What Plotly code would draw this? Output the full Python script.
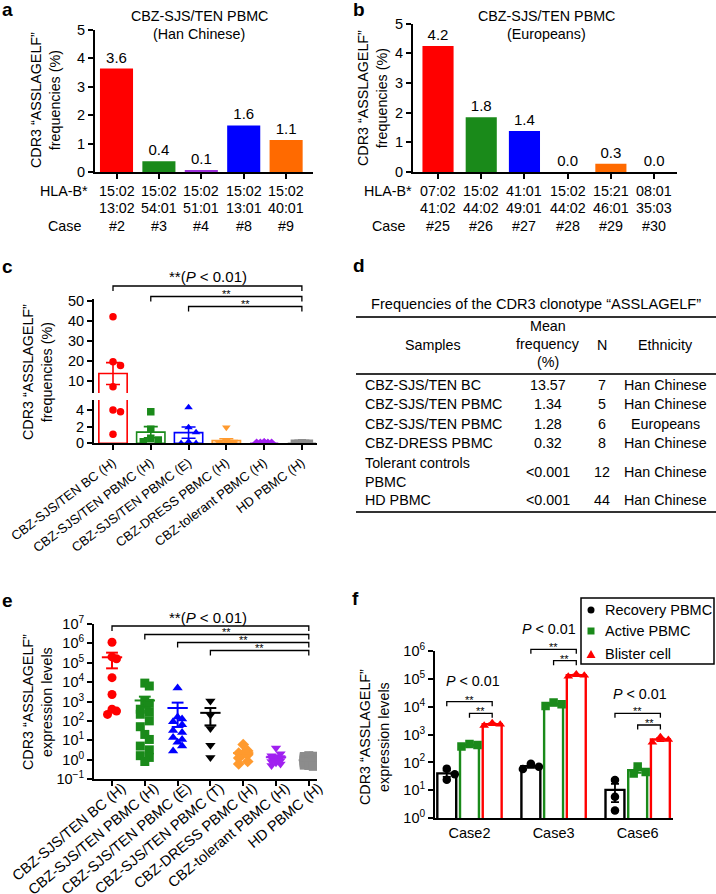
import numpy as np
import plotly.graph_objects as go

W, H = 716, 894
FONT = "Liberation Sans, Arial, Helvetica, sans-serif"
FS = 14.3  # base text size

# ---------------- Panel a data ----------------
a_hla1 = ["15:02", "15:02", "15:02", "15:02", "15:02"]
a_hla2 = ["13:02", "54:01", "51:01", "13:01", "40:01"]
a_case = ["#2", "#3", "#4", "#8", "#9"]
a_freq = [3.64, 0.38, 0.07, 1.64, 1.13]
a_colors = ["#FF0000", "#1A8A1A", "#9B30D9", "#0000FF", "#FF6A00"]

# ---------------- Panel b data ----------------
b_hla1 = ["07:02", "15:02", "41:01", "15:02", "15:21", "08:01"]
b_hla2 = ["41:02", "44:02", "49:01", "44:02", "46:01", "35:03"]
b_case = ["#25", "#26", "#27", "#28", "#29", "#30"]
b_freq = [4.24, 1.84, 1.38, 0.0, 0.28, 0.0]
b_colors = ["#FF0000", "#1A8A1A", "#0000FF", "#000000", "#FF6A00", "#000000"]

# ---------------- Panel c data ----------------
c_labels = ["CBZ-SJS/TEN BC (H)", "CBZ-SJS/TEN PBMC (H)", "CBZ-SJS/TEN PBMC (E)",
            "CBZ-DRESS PBMC (H)", "CBZ-tolerant PBMC (H)", "HD PBMC (H)"]
c_bc = [42.0, 19.5, 17.6, 7.0, 4.0, 3.8, 1.1]
c_pbmc_h = [3.8, 1.7, 0.6, 0.4, 0.2]
c_pbmc_e = [4.3, 1.9, 1.3, 0.2, 0.0, 0.0]
c_dress = [1.9, 0.3, 0.2, 0.1, 0.05, 0.0, 0.0, 0.0]
c_tol = [0.0, 0.0, 0.0, 0.0, 0.0, 0.0, 0.0, 0.0, 0.0, 0.0, 0.0, 0.0]
c_hd = [0.0, 0.0, 0.0, 0.0, 0.0, 0.0, 0.0, 0.0, 0.0, 0.0, 0.0,
        0.0, 0.0, 0.0, 0.0, 0.0, 0.0, 0.0, 0.0, 0.0, 0.0, 0.0,
        0.0, 0.0, 0.0, 0.0, 0.0, 0.0, 0.0, 0.0, 0.0, 0.0, 0.0,
        0.0, 0.0, 0.0, 0.0, 0.0, 0.0, 0.0, 0.0, 0.0, 0.0, 0.0]
c_colors = ["#FF0000", "#1A8A1A", "#0000FF", "#FF9A2E", "#A020F0", "#8C8C8C"]
c_symbols = ["circle", "square", "triangle-up", "triangle-down", "diamond", "square"]

# ---------------- Panel d data ----------------
d_title = "Frequencies of the CDR3 clonotype “ASSLAGELF”"
d_samples = ["CBZ-SJS/TEN BC", "CBZ-SJS/TEN PBMC", "CBZ-SJS/TEN PBMC", "CBZ-DRESS PBMC",
             "Tolerant controls<br>PBMC", "HD PBMC"]
d_mean = ["13.57", "1.34", "1.28", "0.32", "<0.001", "<0.001"]
d_n = ["7", "5", "6", "8", "12", "44"]
d_eth = ["Han Chinese", "Han Chinese", "Europeans", "Han Chinese", "Han Chinese", "Han Chinese"]

# ---------------- Panel e data ----------------
e_labels = ["CBZ-SJS/TEN BC (H)", "CBZ-SJS/TEN PBMC (H)", "CBZ-SJS/TEN PBMC (E)",
            "CBZ-SJS/TEN PBMC (T)", "CBZ-DRESS PBMC (H)", "CBZ-tolerant PBMC (H)", "HD PBMC (H)"]
e_bc = [1.15e6, 2.0e5, 1.6e5, 1.7e4, 2.3e3, 400, 320, 215]
e_pbmc_h = [8900, 6300, 1000, 800, 400, 280, 220, 100, 50, 20, 11, 5, 3.2, 1.6, 1.3, 0.8]
e_pbmc_e = [5000, 160, 125, 90, 63, 32, 25, 14, 11, 8, 5, 2.8]
e_pbmc_t = [1050, 200, 40, 5.6, 1.3]
e_dress = [6.0, 2.8, 2.2, 2.0, 1.8, 1.2, 0.8, 0.6]
e_tol = [4.0, 2.0, 1.6, 1.4, 1.3, 1.2, 1.0, 0.9, 0.8, 0.7, 0.6, 0.5]
e_hd = [1.6, 1.5, 1.45, 1.4, 1.35, 1.3, 1.25, 1.2, 1.2, 1.15,
        1.1, 1.1, 1.05, 1.05, 1.0, 1.0, 1.0, 1.0, 0.98, 0.95,
        0.95, 0.92, 0.9, 0.9, 0.88, 0.85, 0.85, 0.82, 0.8, 0.8,
        0.78, 0.75, 0.72, 0.7, 0.7, 0.68, 0.65, 0.62, 0.6, 0.58,
        0.55, 0.52, 0.5, 0.45]
e_colors = ["#FF0000", "#1A8A1A", "#0000FF", "#000000", "#FF9A2E", "#A020F0", "#8C8C8C"]
e_symbols = ["circle", "square", "triangle-up", "triangle-down", "diamond", "triangle-down", "square"]
e_ticks = [0.1, 1, 10, 100, 1e3, 1e4, 1e5, 1e6, 1e7]
e_ticktext = ["10<sup>−1</sup>", "10<sup>0</sup>", "10<sup>1</sup>", "10<sup>2</sup>", "10<sup>3</sup>",
              "10<sup>4</sup>", "10<sup>5</sup>", "10<sup>6</sup>", "10<sup>7</sup>"]

# ---------------- Panel f data ----------------
f_cases = ["Case2", "Case3", "Case6"]
f_names = ["Recovery PBMC", "Active PBMC", "Blister cell"]
f_recovery = [[60, 38, 24], [90, 70, 58], [23.4, 5.9, 1.9]]
f_active = [[460, 420, 370], [14000, 12000, 10500], [72, 45, 40]]
f_blister = [[2600, 2300, 2100], [145000, 130000, 120000], [820, 650, 520]]
f_colors = ["#000000", "#1A8A1A", "#FF0000"]
f_symbols = ["circle", "square", "triangle-up"]
f_ticks = [1, 10, 100, 1e3, 1e4, 1e5, 1e6]
f_ticktext = ["10<sup>0</sup>", "10<sup>1</sup>", "10<sup>2</sup>", "10<sup>3</sup>",
              "10<sup>4</sup>", "10<sup>5</sup>", "10<sup>6</sup>"]


# ---------------- helpers ----------------
def X(px):
    return px / W


def Y(py):
    return 1 - py / H


ann = []
shapes = []


def text(px, py, s, size=FS, xanchor="center", yanchor="middle", angle=0, bold=False, color="black"):
    if bold:
        s = "<b>" + s + "</b>"
    ann.append(dict(x=X(px), y=Y(py), xref="paper", yref="paper", text=s, showarrow=False,
                    font=dict(family=FONT, size=size, color=color), xanchor=xanchor,
                    yanchor=yanchor, textangle=angle))


def stars(xref, x, py):
    ann.append(dict(x=x, y=Y(py), xref=xref, yref="paper", text="**", showarrow=False,
                    font=dict(family=FONT, size=11, color="black"), xanchor="center", yanchor="middle"))


def bracket(xref, x0, x1, py, drop=5, lw=1.3):
    shapes.append(dict(type="path", xref=xref, yref="paper",
                       path=f"M {x0},{Y(py + drop)} L {x0},{Y(py)} L {x1},{Y(py)} L {x1},{Y(py + drop)}",
                       line=dict(color="black", width=lw)))


def swarm(ypx, diam, maxw):
    n = len(ypx)
    offs = [0.0] * n
    order = sorted(range(n), key=lambda i: ypx[i])
    step = diam * 0.5
    cands = [0.0]
    k = 1
    while k * step <= maxw + 1e-9:
        cands += [k * step, -k * step]
        k += 1
    placed = []
    for i in order:
        y = ypx[i]
        chosen, bestc, bestd = None, 0.0, -1
        for c in cands:
            d = min([((c - px) ** 2 + (y - py) ** 2) ** 0.5 for px, py in placed], default=1e9)
            if d >= diam * 0.9:
                chosen = c
                break
            if d > bestd:
                bestd, bestc = d, c
        if chosen is None:
            chosen = bestc
        offs[i] = chosen
        placed.append((chosen, y))
    return offs


def mean_sem(v):
    v = np.asarray(v, dtype=float)
    return float(v.mean()), float(v.std(ddof=1) / np.sqrt(len(v)))


fig = go.Figure()
AX = dict(showline=True, linecolor="black", linewidth=2, ticks="outside", ticklen=5, tickwidth=2,
          tickcolor="black", showgrid=False, zeroline=False, automargin=False,
          tickfont=dict(family=FONT, size=14.5, color="black"))

# ---------------- Panel a ----------------
fig.add_trace(go.Bar(x=list(range(len(a_freq))), y=a_freq, width=0.78,
                     marker=dict(color=a_colors, line=dict(width=0)),
                     text=[f"{v:.1f}" for v in a_freq], textposition="outside", constraintext="none",
                     textfont=dict(family=FONT, size=15, color="black"), cliponaxis=False,
                     xaxis="x", yaxis="y", showlegend=False, hoverinfo="skip"))
text(0, 9, "a", size=19, xanchor="left", bold=True)
text(199, 16, "CBZ-SJS/TEN PBMC")
text(199, 34, "(Han Chinese)")
text(45, 100, "CDR3 “ASSLAGELF”<br>frequencies (%)", angle=-90)
text(63.5, 191, "HLA-B*")
text(64.5, 226, "Case")
for i in range(len(a_freq)):
    for py, s in [(191, a_hla1[i]), (208, a_hla2[i]), (226, a_case[i])]:
        ann.append(dict(x=i, y=Y(py), xref="x", yref="paper", text=s, showarrow=False,
                        font=dict(family=FONT, size=FS, color="black"), xanchor="center", yanchor="middle"))

# ---------------- Panel b ----------------
fig.add_trace(go.Bar(x=list(range(len(b_freq))), y=b_freq, width=0.72,
                     marker=dict(color=b_colors, line=dict(width=0)),
                     text=[f"{v:.1f}" for v in b_freq], textposition="outside", constraintext="none",
                     textfont=dict(family=FONT, size=15, color="black"), cliponaxis=False,
                     xaxis="x2", yaxis="y2", showlegend=False, hoverinfo="skip"))
text(351, 9, "b", size=19, xanchor="left", bold=True)
text(546, 16, "CBZ-SJS/TEN PBMC")
text(546, 34, "(Europeans)")
text(373, 98, "CDR3 “ASSLAGELF”<br>frequencies (%)", angle=-90)
text(388, 191, "HLA-B*")
text(388, 226, "Case")
for i in range(len(b_freq)):
    for py, s in [(191, b_hla1[i]), (208, b_hla2[i]), (226, b_case[i])]:
        ann.append(dict(x=i, y=Y(py), xref="x2", yref="paper", text=s, showarrow=False,
                        font=dict(family=FONT, size=FS, color="black"), xanchor="center", yanchor="middle"))

# ---------------- Panel c (broken axis) ----------------
c_data = [c_bc, c_pbmc_h, c_pbmc_e, c_dress, c_tol, c_hd]
C_PPC = 37.8


def c_ypx(v):
    return 443.3 - v * 8.33 if v <= 4.6 else 380.7 - (v - 10) * 2.0


for g, vals in enumerate(c_data):
    m, s = mean_sem(vals)
    for xa, ya in [("x3", "y3"), ("x4", "y4")]:
        fig.add_trace(go.Bar(x=[g], y=[m], width=0.75,
                             marker=dict(color="rgba(255,255,255,0)", line=dict(color=c_colors[g], width=1.6)),
                             error_y=dict(type="data", array=[s], color=c_colors[g], thickness=1.6, width=7),
                             xaxis=xa, yaxis=ya, showlegend=False, hoverinfo="skip"))
for g, vals in enumerate(c_data):
    offs = swarm([c_ypx(v) for v in vals], 7.5, 11)
    xs = [g + o / C_PPC for o in offs]
    lo = [(x, v) for x, v in zip(xs, vals) if v <= 4.6]
    hi = [(x, v) for x, v in zip(xs, vals) if v > 4.6]
    for pts, xa, ya in [(lo, "x3", "y3"), (hi, "x4", "y4")]:
        if pts:
            fig.add_trace(go.Scatter(x=[p[0] for p in pts], y=[p[1] for p in pts], mode="markers",
                                     marker=dict(symbol=c_symbols[g], size=7.5, color=c_colors[g]),
                                     xaxis=xa, yaxis=ya, showlegend=False, hoverinfo="skip"))
text(0, 266, "c", size=19, xanchor="left", bold=True)
text(37, 372, "CDR3 “ASSLAGELF”<br>frequencies (%)", angle=-90)
text(208, 276, "**(<i>P</i> &lt; 0.01)", size=15)
bracket("x3", 0, 5, 286)
bracket("x3", 1, 5, 296.5)
bracket("x3", 2, 5, 306.5)
stars("x3", 3, 293.5)
stars("x3", 3.5, 303.5)

# ---------------- Panel d (table) ----------------
text(351, 265, "d", size=19, xanchor="left", bold=True)
text(536, 304, d_title, size=14.6)
for py in (317, 374, 512):
    shapes.append(dict(type="line", xref="paper", yref="paper", x0=X(356), x1=X(716), y0=Y(py), y1=Y(py),
                       line=dict(color="#333333", width=2)))
text(433, 345, "Samples")
text(548, 326, "Mean")
text(548, 344, "frequency")
text(548, 362, "(%)")
text(602, 345, "N")
text(665, 345, "Ethnicity")
row_y = [385, 404.5, 424, 443.5, 472, 500]
for i in range(len(d_samples)):
    yy = row_y[i]
    if "<br>" in d_samples[i]:
        l1, l2 = d_samples[i].split("<br>")
        text(363, yy - 9.5, l1, xanchor="left")
        text(363, yy + 9.5, l2, xanchor="left")
    else:
        text(363, yy, d_samples[i], xanchor="left")
    text(548, yy, d_mean[i].replace("<", "&lt;"))
    text(602, yy, d_n[i])
    text(665, yy, d_eth[i])

# ---------------- Panel e ----------------
e_data = [e_bc, e_pbmc_h, e_pbmc_e, e_pbmc_t, e_dress, e_tol, e_hd]
E_PPC = 32.8


def e_ypx(v):
    return 779 - (np.log10(v) + 1) * 19.4


for g, vals in enumerate(e_data):
    offs = swarm([e_ypx(v) for v in vals], 9, 7)
    fig.add_trace(go.Scatter(x=[g + o / E_PPC for o in offs], y=vals, mode="markers",
                             marker=dict(symbol=e_symbols[g], size=9, color=e_colors[g]),
                             xaxis="x5", yaxis="y5", showlegend=False, hoverinfo="skip"))
for g, vals in enumerate(e_data):
    m, s = mean_sem(vals)
    hw, cw = 0.31, 0.18
    xs = [g - hw, g + hw, None, g, g, None, g - cw, g + cw]
    ys = [m, m, None, m, m + s, None, m + s, m + s]
    if m - s > 0:
        xs += [None, g, g, None, g - cw, g + cw]
        ys += [None, m, m - s, None, m - s, m - s]
    fig.add_trace(go.Scatter(x=xs, y=ys, mode="lines", line=dict(color=e_colors[g], width=2),
                             xaxis="x5", yaxis="y5", showlegend=False, hoverinfo="skip"))
text(0, 600, "e", size=19, xanchor="left", bold=True)
text(37, 702, "CDR3 “ASSLAGELF”<br>expression levels", angle=-90)
text(208, 617, "**(<i>P</i> &lt; 0.01)", size=15)
bracket("x5", 0, 6, 626)
bracket("x5", 1, 6, 634.5)
bracket("x5", 2, 6, 642.5)
bracket("x5", 3, 6, 650.5)
for x0, py in [(1, 632), (2, 640), (3, 648)]:
    stars("x5", (x0 + 6) / 2, py)

# ---------------- Panel f ----------------
f_data = [f_recovery, f_active, f_blister]
F_PPG = 84.0
F_OFF = 0.27
F_W = 0.225


def f_ypx(v):
    return 818.3 - np.log10(v) * 27.93


for j, cond in enumerate(f_data):
    ms = [mean_sem(v) for v in cond]
    fig.add_trace(go.Bar(x=list(range(len(f_cases))), y=[m for m, s in ms], width=F_W,
                         offset=(j - 1) * F_OFF - F_W / 2,
                         marker=dict(color="rgba(255,255,255,0)", line=dict(color=f_colors[j], width=2.4)),
                         error_y=dict(type="data", array=[s for m, s in ms], color=f_colors[j],
                                      thickness=1.8, width=4),
                         xaxis="x6", yaxis="y6", showlegend=False, hoverinfo="skip"))
for j, cond in enumerate(f_data):
    xs, ys = [], []
    for i, vals in enumerate(cond):
        offs = swarm([f_ypx(v) for v in vals], 8, 8)
        xs += [i + (j - 1) * F_OFF + o / F_PPG for o in offs]
        ys += list(vals)
    fig.add_trace(go.Scatter(x=xs, y=ys, mode="markers", name=f_names[j],
                             marker=dict(symbol=f_symbols[j], size=8.5, color=f_colors[j]),
                             xaxis="x6", yaxis="y6", showlegend=False, hoverinfo="skip"))
text(350, 598, "f", size=19, xanchor="left", bold=True)
text(374, 737, "CDR3 “ASSLAGELF”<br>expression levels", angle=-90)
for i, (tx, ty, b1, b2) in enumerate([(473, 681, 701.7, 713.3), (548.5, 629, 649.3, 660.7),
                                      (640, 693.5, 713.3, 725)]):
    text(tx, ty, "<i>P</i> &lt; 0.01", size=14.3)
    bracket("x6", i - F_OFF, i + F_OFF, b1, drop=4.5)
    bracket("x6", i, i + F_OFF, b2, drop=4.5)
    stars("x6", i, b1 - 2)
    stars("x6", i + F_OFF / 2, b2 - 2)
# legend box
shapes.append(dict(type="rect", xref="paper", yref="paper", x0=X(581), x1=X(714), y0=Y(664), y1=Y(598),
                   line=dict(color="black", width=1.5), fillcolor="white"))
shapes.append(dict(type="circle", xref="paper", yref="paper", x0=X(587.5), x1=X(594.5), y0=Y(613.5),
                   y1=Y(606.5), line=dict(color="black", width=0), fillcolor="black"))
shapes.append(dict(type="rect", xref="paper", yref="paper", x0=X(587.5), x1=X(594.5), y0=Y(634.5),
                   y1=Y(627.5), line=dict(color="#1A8A1A", width=0), fillcolor="#1A8A1A"))
shapes.append(dict(type="path", xref="paper", yref="paper",
                   path=f"M {X(586.5)},{Y(658)} L {X(595.5)},{Y(658)} L {X(591)},{Y(650)} Z",
                   line=dict(color="#FF0000", width=0), fillcolor="#FF0000"))
for py, s in [(610, f_names[0]), (631, f_names[1]), (654, f_names[2])]:
    text(603, py, s, size=14.5, xanchor="left")

# ---------------- layout ----------------
lay = dict(
    width=W, height=H, margin=dict(l=0, r=0, t=0, b=0, pad=0, autoexpand=False),
    paper_bgcolor="white", plot_bgcolor="rgba(0,0,0,0)",
    barmode="overlay", showlegend=False, font=dict(family=FONT, color="black"),
    xaxis=dict(AX, domain=[X(95), X(313)], range=[-0.507, 4.634], tickvals=list(range(5)),
               showticklabels=False, anchor="y"),
    yaxis=dict(AX, domain=[Y(172), Y(30)], range=[0, 5], dtick=1, anchor="x"),
    xaxis2=dict(AX, domain=[X(413), X(677)], range=[-0.579, 5.53], tickvals=list(range(6)),
                showticklabels=False, anchor="y2"),
    yaxis2=dict(AX, domain=[Y(172), Y(23.5)], range=[0, 5], dtick=1, anchor="x2"),
    xaxis3=dict(AX, domain=[X(94), X(317)], range=[-0.503, 5.4], tickvals=list(range(6)),
                ticktext=c_labels, tickangle=-37, tickfont=dict(family=FONT, size=13, color="black"),
                anchor="y3"),
    yaxis3=dict(AX, domain=[Y(443.3), Y(400)], range=[0, 5.2], tickvals=[0, 2, 4], anchor="x3"),
    xaxis4=dict(domain=[X(94), X(317)], range=[-0.503, 5.4], visible=False, anchor="y4", automargin=False),
    yaxis4=dict(AX, domain=[Y(393), Y(299)], range=[3.85, 50.85], tickvals=[10, 20, 30, 40, 50],
                anchor="x4"),
    xaxis5=dict(AX, domain=[X(94), X(317)], range=[-0.549, 6.25], tickvals=list(range(7)),
                ticktext=e_labels, tickangle=-40, tickfont=dict(family=FONT, size=14.6, color="black"),
                ticklabelshift=10, ticklabelstandoff=-12, anchor="y5"),
    yaxis5=dict(AX, domain=[Y(779), Y(624)], type="log", range=[-1, 7], tickvals=e_ticks,
                ticktext=e_ticktext, anchor="x5"),
    xaxis6=dict(AX, domain=[X(435), X(673)], range=[-0.41, 2.42], tickvals=list(range(3)),
                ticktext=f_cases, ticks="", tickfont=dict(family=FONT, size=14.5, color="black"),
                anchor="y6"),
    yaxis6=dict(AX, domain=[Y(818.3), Y(650.7)], type="log", range=[0, 6], tickvals=f_ticks,
                ticktext=f_ticktext, anchor="x6"),
    annotations=ann, shapes=shapes,
)
fig.update_layout(**lay)
fig.write_html("out.html", config={"displayModeBar": False},
               post_script="document.body.style.margin='0';")
